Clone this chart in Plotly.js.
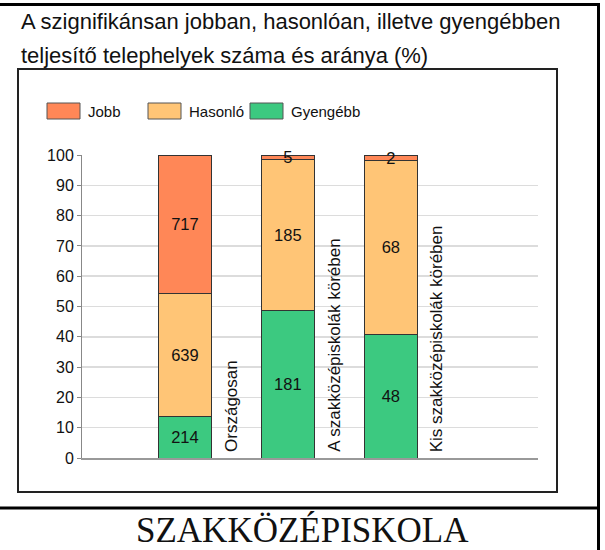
<!DOCTYPE html>
<html>
<head>
<meta charset="utf-8">
<script src="https://cdn.plot.ly/plotly-3.0.1.min.js"></script>
<style>
  html, body { margin: 0; padding: 0; background: #fff; }
  #chart { width: 605px; height: 550px; }
</style>
</head>
<body>
<div id="chart"></div>
<script>
// ---- data ----
var categories = ['Országosan', 'A szakközépiskolák körében', 'Kis szakközépiskolák körében'];
var seriesNames = ['Gyengébb', 'Hasonló', 'Jobb'];
var gyengebb = [214, 181, 48];
var hasonlo = [639, 185, 68];
var jobb = [717, 5, 2];
var yTicks = [0, 10, 20, 30, 40, 50, 60, 70, 80, 90, 100];
var titleLines = ['A szignifikánsan jobban, hasonlóan, illetve gyengébben',
                  'teljesítő telephelyek száma és aránya (%)'];
var footerText = 'SZAKKÖZÉPISKOLA';

// ---- styles ----
var colors = {'Gyengébb': '#3cc980', 'Hasonló': '#ffc576', 'Jobb': '#ff8757'};
var W = 605, H = 550;
var M = {l: 82, r: 67, t: 155, b: 92};
var PW = W - M.l - M.r, PH = H - M.t - M.b;
function X(px) { return (px - M.l) / PW; }
function Y(py) { return (H - M.b - py) / PH; }

var seriesValues = [gyengebb, hasonlo, jobb];
var traces = seriesNames.map(function (name, i) {
  return {
    type: 'bar',
    name: name,
    x: categories,
    y: seriesValues[i],
    text: seriesValues[i].map(String),
    textposition: 'inside',
    insidetextanchor: 'middle',
    textangle: 0,
    constraintext: 'none',
    cliponaxis: false,
    insidetextfont: {family: 'Liberation Sans, Arial, sans-serif', size: 16.5, color: '#111'},
    width: 0.515,
    marker: {color: colors[name], line: {color: '#333', width: 1}},
    hoverinfo: 'none',
    showlegend: false
  };
});

var shapes = [];
var annotations = [];

// outer frame
shapes.push({type: 'line', xref: 'paper', yref: 'paper', x0: X(0), x1: X(600), y0: Y(4.5), y1: Y(4.5), line: {color: '#000', width: 3}});
shapes.push({type: 'line', xref: 'paper', yref: 'paper', x0: X(598.5), x1: X(598.5), y0: Y(3), y1: Y(552), line: {color: '#000', width: 3}});
shapes.push({type: 'line', xref: 'paper', yref: 'paper', x0: X(0), x1: X(600), y0: Y(508), y1: Y(508), line: {color: '#000', width: 3}});
// inner chart box
shapes.push({type: 'rect', xref: 'paper', yref: 'paper', x0: X(18), x1: X(557), y0: Y(69), y1: Y(492), line: {color: '#222', width: 2}, layer: 'below'});

// custom legend (order as in reference)
var legendOrder = ['Jobb', 'Hasonló', 'Gyengébb'];
var legendX = [47, 148, 250];
legendOrder.forEach(function (name, i) {
  shapes.push({type: 'rect', xref: 'paper', yref: 'paper', x0: X(legendX[i]), x1: X(legendX[i] + 33), y0: Y(103), y1: Y(119),
    fillcolor: colors[name], line: {color: '#555', width: 1}});
  annotations.push({xref: 'paper', yref: 'paper', x: X(legendX[i] + 39), y: Y(111), xanchor: 'left', yanchor: 'middle',
    text: name, showarrow: false, font: {family: 'Liberation Sans, Arial, sans-serif', size: 15, color: '#111'}});
});

// title lines
var titleY = [22, 55];
titleLines.forEach(function (t, i) {
  annotations.push({xref: 'paper', yref: 'paper', x: X(19), y: Y(titleY[i]), xanchor: 'left', yanchor: 'middle',
    text: t, showarrow: false, font: {family: 'Liberation Sans, Arial, sans-serif', size: 22, color: '#111'}});
});

// category labels (rotated, right of each bar)
categories.forEach(function (c) {
  annotations.push({xref: 'x', yref: 'y', x: c, y: 0, xanchor: 'center', yanchor: 'bottom', xshift: 46, yshift: 4,
    textangle: -90, text: c, showarrow: false, font: {family: 'Liberation Sans, Arial, sans-serif', size: 17, color: '#111'}});
});

// footer
annotations.push({xref: 'paper', yref: 'paper', x: X(302), y: Y(530), xanchor: 'center', yanchor: 'middle',
  text: footerText, showarrow: false, font: {family: 'Liberation Serif, Times New Roman, serif', size: 35, color: '#111'}});

var layout = {
  width: W, height: H,
  margin: M,
  paper_bgcolor: '#fff', plot_bgcolor: '#fff',
  barmode: 'stack', barnorm: 'percent',
  showlegend: false,
  xaxis: {type: 'category', range: [-1, 3.43], showticklabels: false, ticks: '', showgrid: false,
    zeroline: false, showline: true, linecolor: '#999', linewidth: 1.5, fixedrange: true},
  yaxis: {range: [0, 100], tickvals: yTicks, ticktext: yTicks.map(String), showgrid: true, gridcolor: '#dcdcdc', gridwidth: 1.5,
    zeroline: false, showline: true, linecolor: '#888', linewidth: 1, ticks: 'outside', ticklen: 4, tickcolor: '#888',
    tickfont: {family: 'Liberation Sans, Arial, sans-serif', size: 16, color: '#111'}, fixedrange: true},
  shapes: shapes,
  annotations: annotations,
  font: {family: 'Liberation Sans, Arial, sans-serif'}
};

Plotly.newPlot('chart', traces, layout, {displayModeBar: false, staticPlot: true});
</script>
</body>
</html>
